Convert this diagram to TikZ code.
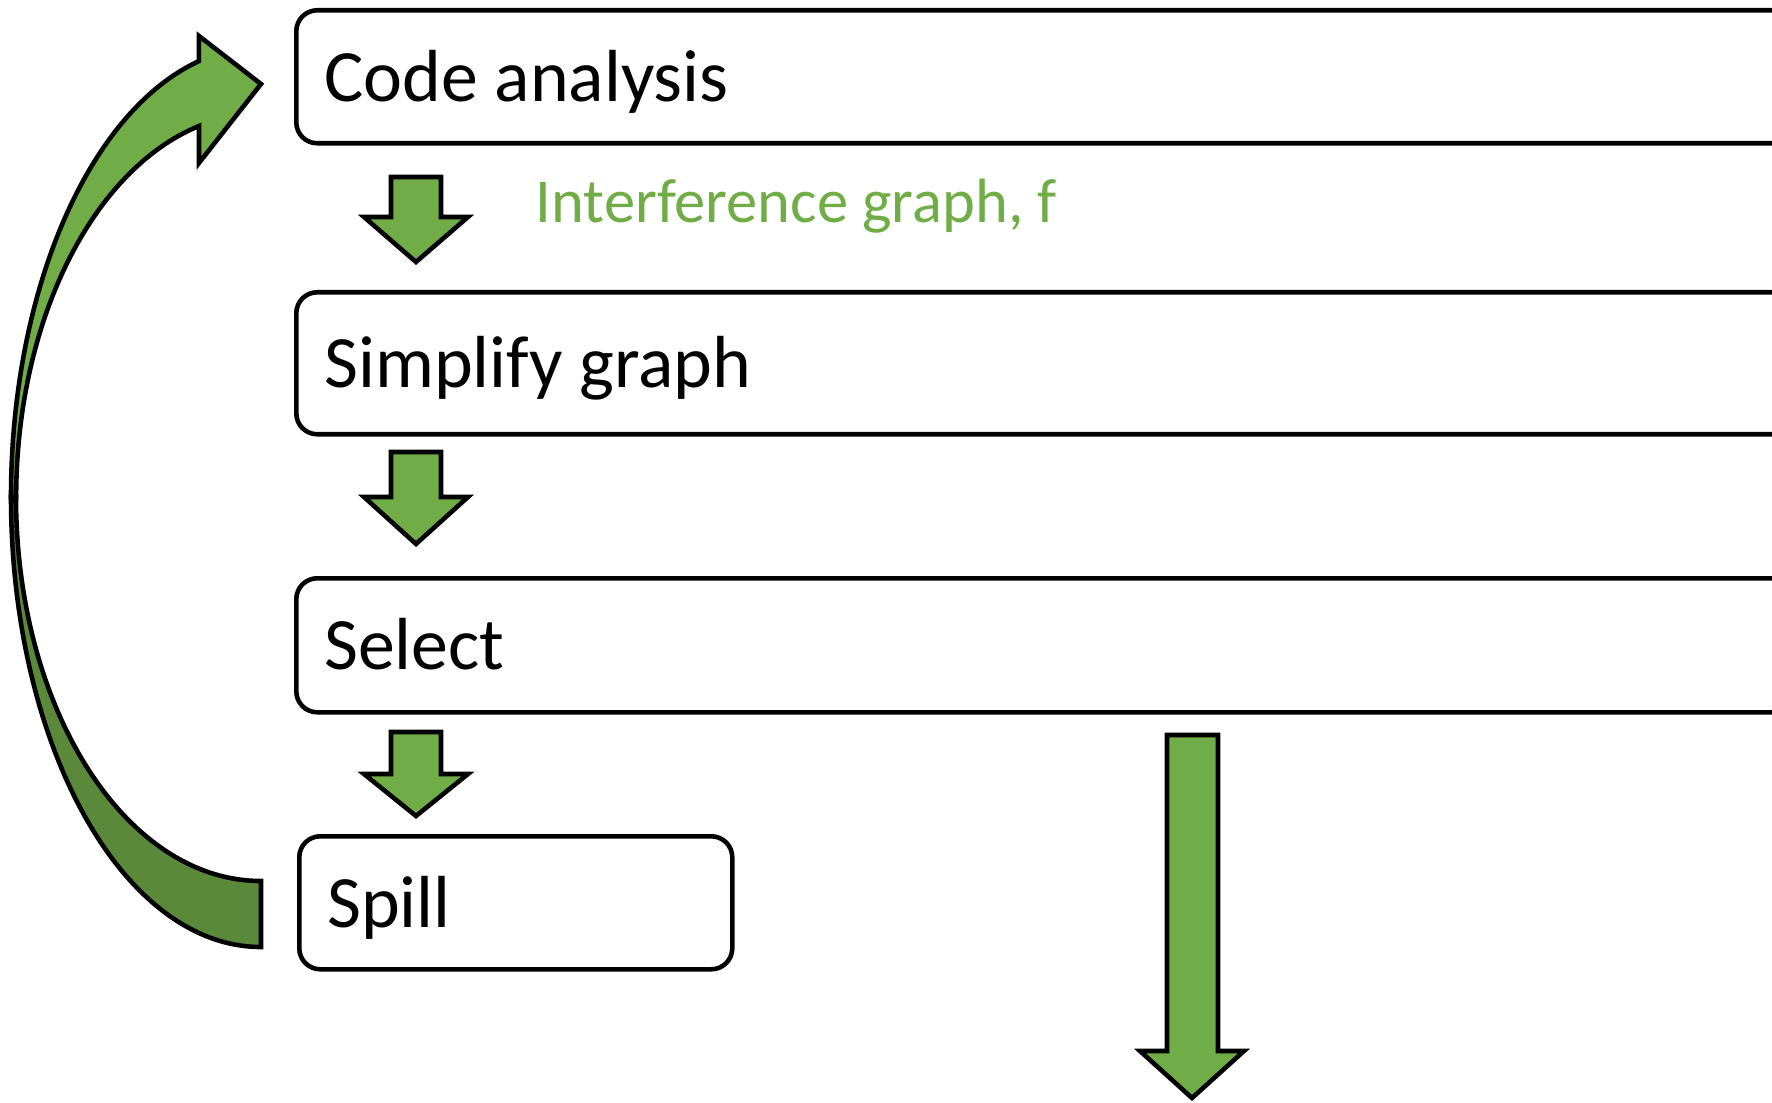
\documentclass[tikz,border=0pt]{standalone}
\usepackage{fontspec}
\setmainfont{Carlito}
\usepackage{xcolor}
\usepackage{tikz}

\definecolor{stagegreen}{RGB}{112,173,71}
\definecolor{stagedark}{RGB}{90,138,57}

\tikzset{
  stage/.style={draw, line width=1.3pt, rounded corners=0.21cm, anchor=north west,
    align=flush left, inner xsep=0.28cm, text height=16pt, text depth=2pt,
    font=\fontsize{21}{25}\selectfont},
  blockarrow/.style={draw=black, fill=stagegreen, line width=1.3pt},
}

\begin{document}
\begin{tikzpicture}
            \useasboundingbox (0,0) rectangle (17.72,11.02);
            % stages
            \node[stage, text width=14.40cm, minimum height=1.33cm] (analysis) at (2.94,10.94) {Code analysis};
            \node[stage, text width=14.40cm, minimum height=1.42cm] (simplify) at (2.94,8.12) {Simplify graph};
            \node[stage, text width=14.40cm, minimum height=1.34cm] (select) at (2.94,5.26) {Select};
            \node[stage, text width=3.77cm, minimum height=1.33cm] (spill) at (2.97,2.68) {Spill};
            \node[anchor=base west, inner sep=0, text=stagegreen, font=\fontsize{17.8}{21}\selectfont] (igraph) at (5.35,8.79) {Interference graph, f};
            % block arrows between the stages
            \draw[blockarrow] (3.91,9.25) -- (4.41,9.25) -- (4.41,8.85) -- (4.68,8.85) -- (4.16,8.40) -- (3.64,8.85) -- (3.91,8.85) -- cycle;
            \draw[blockarrow] (3.91,6.50) -- (4.41,6.50) -- (4.41,6.05) -- (4.68,6.05) -- (4.16,5.58) -- (3.64,6.05) -- (3.91,6.05) -- cycle;
            \draw[blockarrow] (3.91,3.70) -- (4.41,3.70) -- (4.41,3.28) -- (4.68,3.28) -- (4.16,2.86) -- (3.64,3.28) -- (3.91,3.28) -- cycle;
            \draw[blockarrow] (11.67,3.67) -- (12.18,3.67) -- (12.18,0.51) -- (12.44,0.51) -- (11.92,0.04) -- (11.40,0.51) -- (11.67,0.51) -- cycle;
            % curved arrow from spill back to code analysis
            \draw[blockarrow, fill=stagedark] (0.11,6.05) arc[start angle=180, end angle=270, x radius=2.5, y radius=4.5]
                -- (2.61,2.21) arc[start angle=270, end angle=180, x radius=2.45, y radius=3.84] -- cycle;
            \draw[blockarrow] (0.11,6.05) arc[start angle=180, end angle=104.4, x radius=2.5, y radius=4.5]
                -- (1.99,10.66) -- (2.61,10.18) -- (1.99,9.39) -- (1.99,9.76)
                arc[start angle=104.7, end angle=180, x radius=2.45, y radius=3.84] -- cycle;
        \end{tikzpicture}
\end{document}
